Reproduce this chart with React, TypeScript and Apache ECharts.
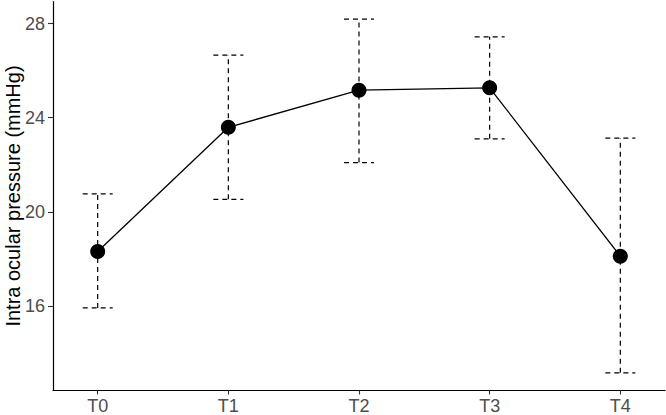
import React, { useEffect, useRef } from "react";
import * as echarts from "echarts";

const categories = ["T0", "T1", "T2", "T3", "T4"];
const means = [18.31, 23.59, 25.17, 25.27, 18.11];
const upper = [20.76, 26.66, 28.19, 27.44, 23.13];
const lower = [15.91, 20.53, 22.09, 23.1, 13.15];
const yTicks = [16, 20, 24, 28];
const xTicks = [0, 1, 2, 3, 4];

export default function App() {
  const ref = useRef<HTMLDivElement>(null);
  useEffect(() => {
    document.body.style.margin = "0";
    const chart = echarts.init(ref.current!, null, { renderer: "svg" });
    const font = "'Liberation Sans', Arial, sans-serif";
    chart.setOption({
      animation: false,
      backgroundColor: "#ffffff",
      grid: {
        left: 53,
        right: 1,
        top: 1.5,
        bottom: 24.5,
        containLabel: false,
        outerBoundsMode: "none",
      },
      xAxis: {
        type: "value",
        min: -0.342,
        max: 4.342,
        splitLine: { show: false },
        axisLine: { show: true, onZero: false, lineStyle: { color: "#000", width: 1.2 } },
        axisTick: { show: true, length: 4, customValues: xTicks, lineStyle: { color: "#333", width: 1.1 } },
        axisLabel: {
          customValues: xTicks,
          formatter: (v: number) => categories[Math.round(v)] ?? "",
          color: "#4d4d4d",
          fontSize: 18,
          fontFamily: font,
          margin: 6,
        },
      },
      yAxis: {
        type: "value",
        min: 12.4,
        max: 28.94,
        splitLine: { show: false },
        axisLine: { show: true, onZero: false, lineStyle: { color: "#000", width: 1.2 } },
        axisTick: { show: true, length: 5, customValues: yTicks, lineStyle: { color: "#333", width: 1.1 } },
        axisLabel: {
          customValues: yTicks,
          color: "#4d4d4d",
          fontSize: 18,
          fontFamily: font,
          margin: 8,
        },
        name: "Intra ocular pressure (mmHg)",
        nameLocation: "middle",
        nameGap: 30,
        nameMoveOverlap: false,
        nameTextStyle: { color: "#000", fontSize: 20, fontFamily: font },
      },
      series: [
        {
          type: "custom",
          z: 1,
          data: means.map((_, i) => [i, lower[i], upper[i]]),
          renderItem: (params: any, api: any) => {
            const x = api.value(0);
            const lo = api.coord([x, api.value(1)]);
            const hi = api.coord([x, api.value(2)]);
            const hw = 15;
            const style = { stroke: "#000", lineWidth: 1.2, lineDash: [5, 4] };
            return {
              type: "group",
              children: [
                { type: "line", shape: { x1: lo[0], y1: lo[1], x2: hi[0], y2: hi[1] }, style },
                { type: "line", shape: { x1: hi[0] - hw, y1: hi[1], x2: hi[0] + hw, y2: hi[1] }, style },
                { type: "line", shape: { x1: lo[0] - hw, y1: lo[1], x2: lo[0] + hw, y2: lo[1] }, style },
              ],
            };
          },
        },
        {
          type: "line",
          z: 2,
          data: means.map((m, i) => [i, m]),
          symbol: "circle",
          symbolSize: 15,
          itemStyle: { color: "#000" },
          lineStyle: { color: "#000", width: 1.3 },
        },
      ],
    });
    return () => chart.dispose();
  }, []);
  return <div ref={ref} style={{ width: 666, height: 415 }} />;
}
